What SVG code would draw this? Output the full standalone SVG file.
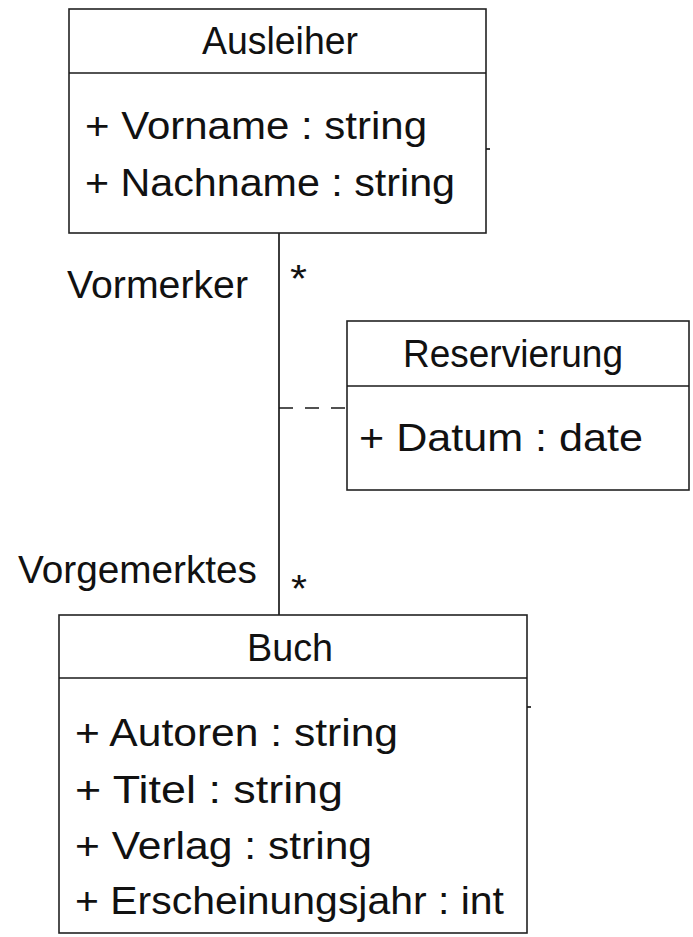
<svg xmlns="http://www.w3.org/2000/svg" width="693" height="937" viewBox="0 0 693 937">
<style>
.box{fill:#fff;stroke:#222;stroke-width:1.6}
.ln{stroke:#1a1a1a;stroke-width:1.7;fill:none}
.t{font-family:"Liberation Sans","DejaVu Sans",sans-serif;font-size:38px;fill:#111}
</style>
<rect width="693" height="937" fill="#fff"/>
<g id="connectors">
<line class="ln" x1="279" y1="233" x2="279" y2="615"/>
<line class="ln" x1="279" y1="408" x2="347" y2="408" stroke-dasharray="14 12"/>
<text class="t" x="67" y="298" textLength="181" lengthAdjust="spacingAndGlyphs">Vormerker</text>
<text class="t" x="290" y="292" textLength="17" lengthAdjust="spacingAndGlyphs">*</text>
<text class="t" x="18" y="583" textLength="239" lengthAdjust="spacingAndGlyphs">Vorgemerktes</text>
<text class="t" x="291" y="602" textLength="16" lengthAdjust="spacingAndGlyphs">*</text>
</g>
<g id="Ausleiher">
<rect class="box" x="69" y="9" width="417" height="224"/>
<line class="ln" x1="69" y1="73" x2="486" y2="73"/>
<line class="ln" x1="486" y1="149" x2="490" y2="149"/>
<text class="t" x="202" y="54" textLength="156" lengthAdjust="spacingAndGlyphs">Ausleiher</text>
<text class="t" x="85" y="139" textLength="342" lengthAdjust="spacingAndGlyphs">+ Vorname : string</text>
<text class="t" x="85" y="196" textLength="370" lengthAdjust="spacingAndGlyphs">+ Nachname : string</text>
</g>
<g id="Reservierung">
<rect class="box" x="347" y="321" width="342" height="169"/>
<line class="ln" x1="347" y1="386" x2="689" y2="386"/>
<text class="t" x="403" y="367" textLength="220" lengthAdjust="spacingAndGlyphs">Reservierung</text>
<text class="t" x="359" y="451" textLength="284" lengthAdjust="spacingAndGlyphs">+ Datum : date</text>
</g>
<g id="Buch">
<rect class="box" x="59" y="615" width="468" height="318"/>
<line class="ln" x1="59" y1="678" x2="527" y2="678"/>
<line class="ln" x1="527" y1="707" x2="531" y2="707"/>
<text class="t" x="247" y="661" textLength="86" lengthAdjust="spacingAndGlyphs">Buch</text>
<text class="t" x="75" y="746" textLength="323" lengthAdjust="spacingAndGlyphs">+ Autoren : string</text>
<text class="t" x="75" y="803" textLength="268" lengthAdjust="spacingAndGlyphs">+ Titel : string</text>
<text class="t" x="75" y="859" textLength="297" lengthAdjust="spacingAndGlyphs">+ Verlag : string</text>
<text class="t" x="75" y="914" textLength="429" lengthAdjust="spacingAndGlyphs">+ Erscheinungsjahr : int</text>
</g>
</svg>
